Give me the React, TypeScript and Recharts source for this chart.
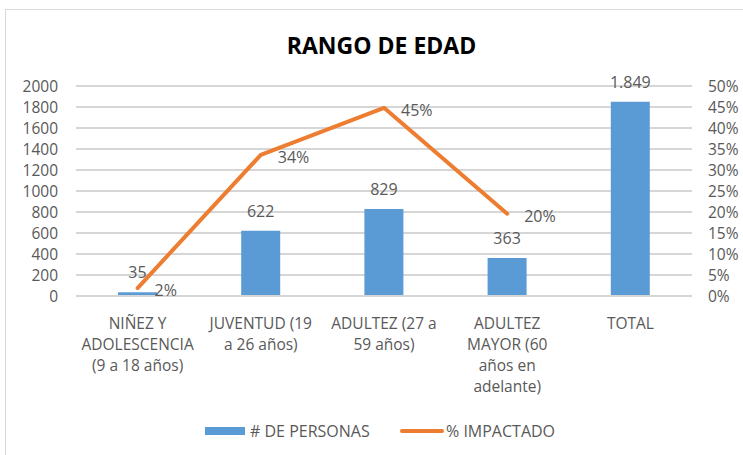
import React from 'react';
import { ComposedChart, Bar, Line, XAxis, YAxis, CartesianGrid, LabelList } from 'recharts';

const categories = [
  'NIÑEZ Y|ADOLESCENCIA|(9 a 18 años)',
  'JUVENTUD (19|a 26 años)',
  'ADULTEZ (27 a|59 años)',
  'ADULTEZ|MAYOR (60|años en|adelante)',
  'TOTAL',
];
const personas = [35, 622, 829, 363, 1849];
const impactado: (number | null)[] = [0.019, 0.336, 0.448, 0.196, null];
const leftTicks = [0, 200, 400, 600, 800, 1000, 1200, 1400, 1600, 1800, 2000];
const rightTicks = [0, 0.05, 0.1, 0.15, 0.2, 0.25, 0.3, 0.35, 0.4, 0.45, 0.5];

const data = categories.map((name, i) => ({
  name,
  personas: personas[i],
  impactado: impactado[i],
}));

const FONT = '"Open Sans", sans-serif';
const TEXT = '#595959';
const BLUE = '#5B9BD5';
const ORANGE = '#ED7D31';
const GRID = '#D6D6D6';

// thousands with a dot, as in the source sheet
const fmtMiles = (v: number) => String(v).replace(/\B(?=(\d{3})+(?!\d))/g, '.');

const CategoryTick = ({ x, y, payload }: any) => {
  const lines = String(payload.value).split('|');
  return (
    <g>
      {lines.map((ln, i) => (
        <text key={i} x={x} y={y + 31 + i * 21} textAnchor="middle" fill={TEXT} fontSize={15.5} fontFamily={FONT}>
          {ln}
        </text>
      ))}
    </g>
  );
};

const BarValue = (props: any) => {
  const { x, y, width, value } = props;
  return (
    <text x={x + width / 2} y={y - 14} textAnchor="middle" fill={TEXT} fontSize={16} fontFamily={FONT}>
      {fmtMiles(value)}
    </text>
  );
};

const PctValue = (props: any) => {
  const { x, y, value } = props;
  if (value == null) return null;
  return (
    <text x={x + 17} y={y + 8} textAnchor="start" fill={TEXT} fontSize={16} fontFamily={FONT}>
      {Math.round(value * 100)}%
    </text>
  );
};

const App: React.FC = () => {
  return (
    <div style={{ position: 'absolute', left: 0, top: 0, width: 743, height: 455, overflow: 'hidden', background: '#fff', fontFamily: FONT }}>
      <div style={{ position: 'absolute', left: 5, top: 9, width: 800, height: 600, border: '1px solid #D9D9D9' }} />
      <div style={{ position: 'absolute', left: 0, width: 763, top: 30, textAlign: 'center', fontWeight: 700, fontSize: 23, color: '#000', lineHeight: '30px' }}>
        RANGO DE EDAD
      </div>
      <div style={{ position: 'absolute', left: 0, top: 0 }}>
        <ComposedChart
          width={743}
          height={455}
          data={data}
          margin={{ top: 86, right: 0, bottom: 49, left: 0 }}
          barCategoryGap={0}
        >
          <CartesianGrid yAxisId="left" vertical={false} horizontal={true} stroke={GRID} strokeWidth={2} fill="none" />
          <XAxis
            dataKey="name"
            height={110}
            axisLine={{ stroke: GRID, strokeWidth: 2 }}
            tickLine={false}
            tickSize={0}
            tick={<CategoryTick />}
            interval={0}
          />
          <YAxis
            yAxisId="left"
            width={76}
            domain={[0, 2000]}
            ticks={leftTicks}
            interval={0}
            axisLine={false}
            tickLine={false}
            tickSize={0}
            tickMargin={18}
            tick={{ fill: TEXT, fontSize: 15.5, fontFamily: FONT }}
          />
          <YAxis
            yAxisId="right"
            orientation="right"
            width={51}
            domain={[0, 0.5]}
            ticks={rightTicks}
            interval={0}
            axisLine={false}
            tickLine={false}
            tickSize={0}
            tickMargin={16}
            tickFormatter={(v: number) => `${Math.round(v * 100)}%`}
            tick={{ fill: TEXT, fontSize: 15.5, fontFamily: FONT, textAnchor: 'start' }}
          />
          <Bar yAxisId="left" dataKey="personas" fill={BLUE} barSize={39} isAnimationActive={false}>
            <LabelList dataKey="personas" content={<BarValue />} />
          </Bar>
          <Line
            yAxisId="right"
            dataKey="impactado"
            stroke={ORANGE}
            strokeWidth={4}
            strokeLinecap="round"
            strokeLinejoin="round"
            dot={false}
            activeDot={false}
            connectNulls={false}
            isAnimationActive={false}
          >
            <LabelList dataKey="impactado" content={<PctValue />} />
          </Line>
        </ComposedChart>
      </div>
      <div style={{ position: 'absolute', left: 205, top: 427, width: 40, height: 8, background: BLUE }} />
      <div style={{ position: 'absolute', left: 250, top: 420, fontSize: 16, color: TEXT, lineHeight: '22px' }}># DE PERSONAS</div>
      <div style={{ position: 'absolute', left: 400, top: 429, width: 44, height: 4, borderRadius: 2, background: ORANGE }} />
      <div style={{ position: 'absolute', left: 446, top: 420, fontSize: 16, color: TEXT, lineHeight: '22px' }}>% IMPACTADO</div>
    </div>
  );
};

export default App;
